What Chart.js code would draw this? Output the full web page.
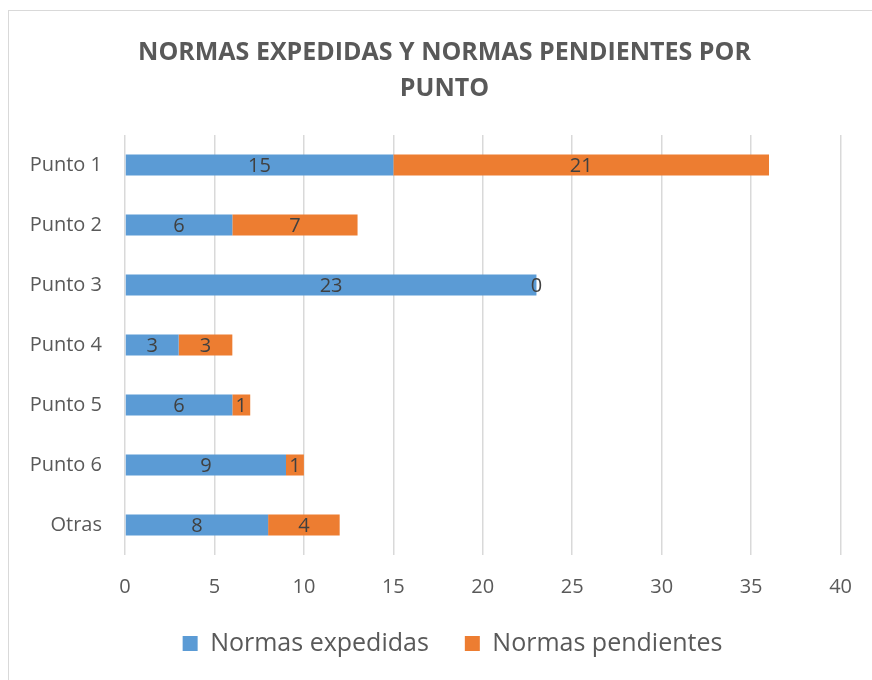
<!DOCTYPE html>
<html>
<head>
<meta charset="utf-8">
<title>Normas por punto</title>
<script src="https://cdn.jsdelivr.net/npm/chart.js@4.4.1/dist/chart.umd.min.js"></script>
<style>
  html, body { margin: 0; padding: 0; background: #ffffff; }
  canvas { display: block; }
</style>
</head>
<body>
<canvas id="myChart" width="872" height="680"></canvas>
<script>
  // datos
  var puntos = ['Punto 1', 'Punto 2', 'Punto 3', 'Punto 4', 'Punto 5', 'Punto 6', 'Otras'];
  var expedidas = [15, 6, 23, 3, 6, 9, 8];
  var pendientes = [21, 7, 0, 3, 1, 1, 4];
  var tituloLineas = ['NORMAS EXPEDIDAS Y NORMAS PENDIENTES POR', 'PUNTO'];

  var gris = '#595959';
  var fuente = "'Open Sans', 'DejaVu Sans', sans-serif";

  // marco gris alrededor del grafico
  var marco = {
    id: 'marco',
    beforeDraw: function (chart) {
      var ctx = chart.ctx;
      ctx.save();
      ctx.fillStyle = '#ffffff';
      ctx.fillRect(0, 0, chart.width, chart.height);
      ctx.strokeStyle = '#d9d9d9';
      ctx.lineWidth = 1;
      ctx.strokeRect(8.5, 10.5, chart.width + 20, chart.height + 20);
      ctx.restore();
    }
  };

  // en excel el titulo y la leyenda van un poco mas a la derecha
  var centrado = {
    id: 'centrado',
    afterLayout: function (chart) {
      chart.legend.left += 16;
      chart.legend.right += 16;
      chart.titleBlock.left += 8;
      chart.titleBlock.right += 8;
    }
  };

  // numeritos dentro de las barras
  var etiquetas = {
    id: 'etiquetas',
    afterDatasetsDraw: function (chart) {
      var ctx = chart.ctx;
      ctx.save();
      ctx.font = '20px ' + fuente;
      ctx.fillStyle = '#404040';
      ctx.textAlign = 'center';
      ctx.textBaseline = 'middle';
      chart.data.datasets.forEach(function (ds, i) {
        var meta = chart.getDatasetMeta(i);
        meta.data.forEach(function (bar, j) {
          var cx = (bar.x + bar.base) / 2;
          ctx.fillText(String(ds.data[j]), cx, bar.y + 1);
        });
      });
      ctx.restore();
    }
  };

  var ctx = document.getElementById('myChart').getContext('2d');
  var myChart = new Chart(ctx, {
    type: 'bar',
    data: {
      labels: puntos,
      datasets: [{
        label: 'Normas expedidas',
        data: expedidas,
        backgroundColor: '#5b9bd5',
        categoryPercentage: 1,
        barPercentage: 0.35
      }, {
        label: 'Normas pendientes',
        data: pendientes,
        backgroundColor: '#ed7d31',
        categoryPercentage: 1,
        barPercentage: 0.35
      }]
    },
    plugins: [marco, centrado, etiquetas],
    options: {
      indexAxis: 'y',
      responsive: false,
      animation: false,
      layout: {
        padding: { top: 0, left: 30, right: 29, bottom: 14 }
      },
      scales: {
        x: {
          stacked: true,
          min: 0,
          max: 40,
          ticks: {
            stepSize: 5,
            padding: 20,
            color: gris,
            font: { family: fuente, size: 20 }
          },
          grid: { color: '#d9d9d9', lineWidth: 1.5, drawTicks: false },
          border: { display: false },
          afterFit: function (scale) { scale.height = 40; }
        },
        y: {
          stacked: true,
          ticks: {
            padding: 23,
            color: gris,
            font: { family: fuente, size: 20 }
          },
          grid: { display: false, drawTicks: false },
          border: { display: false },
          afterFit: function (scale) { scale.width = 95; }
        }
      },
      plugins: {
        title: {
          display: true,
          text: tituloLineas,
          color: gris,
          font: { family: fuente, size: 25, weight: 'bold', lineHeight: 36 / 25 },
          padding: { top: 35, bottom: 28 }
        },
        legend: {
          position: 'bottom',
          labels: {
            boxWidth: 15,
            boxHeight: 15,
            padding: 36,
            color: gris,
            font: { family: fuente, size: 25 }
          }
        },
        tooltip: { enabled: false }
      }
    }
  });
</script>
</body>
</html>
